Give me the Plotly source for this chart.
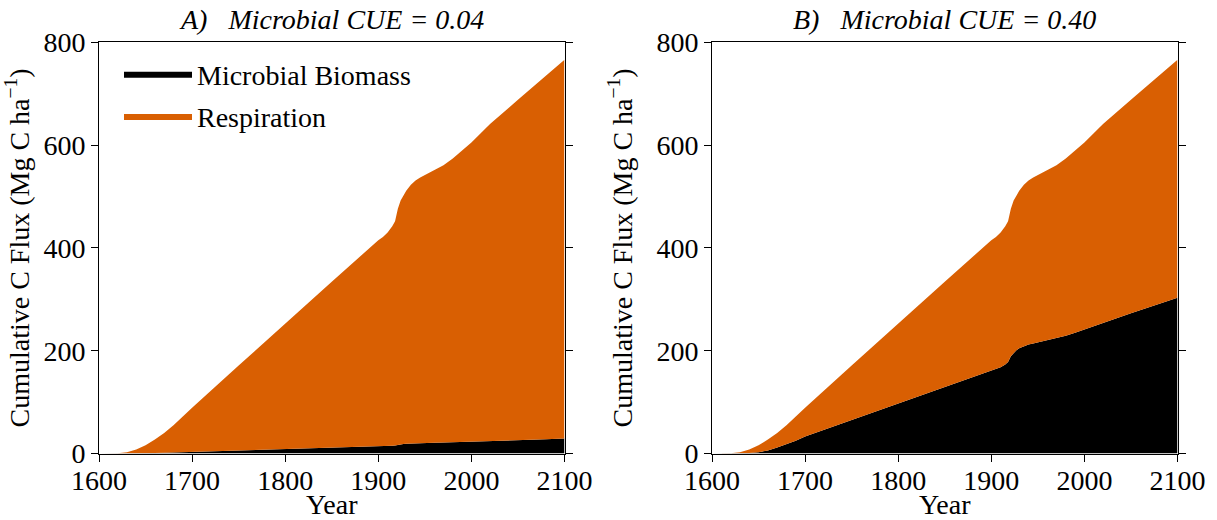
import plotly.graph_objects as go
from plotly.subplots import make_subplots

# ---- data ----
years = [1600, 1610, 1620, 1630, 1640, 1650, 1660, 1670, 1680, 1690, 1700,
         1750, 1800, 1850, 1900, 1905, 1910, 1915, 1918, 1921, 1924, 1927,
         1930, 1935, 1940, 1945, 1950, 1960, 1970, 1980, 1990, 2000, 2010,
         2020, 2050, 2080, 2100]

# cumulative total flux (biomass + respiration), same driver in both panels
total_flux = [0, 0, 0.4, 2.5, 8, 16, 27, 40, 55, 72, 89,
              171, 253, 334, 415, 421, 430, 442, 452, 476, 492, 503,
              511, 523, 531, 537, 542, 551, 561, 574, 589, 605, 623,
              641, 688, 735, 766]

biomass_a = [0, 0, 0, 0.1, 0.3, 0.6, 1.0, 1.5, 2.0, 2.5, 3.0,
             6.0, 9.0, 11.5, 14.0, 14.3, 14.7, 15.2, 15.8, 17.0, 18.0, 18.6,
             19.0, 19.5, 19.8, 20.1, 20.3, 20.8, 21.2, 21.7, 22.2, 22.8, 23.5,
             24.2, 26.0, 27.8, 29.0]

biomass_b = [0, 0, 0, 0.2, 0.8, 2.5, 6.0, 11.5, 18.0, 25.0, 33.0,
             65, 97, 130, 162, 165, 168, 173, 178, 189, 196, 201,
             205, 209, 212, 214, 216, 220, 224, 229, 235, 241, 248,
             254, 273, 291, 303]

panel_titles = ["A)\u00a0\u00a0\u00a0Microbial CUE = 0.04",
                "B)\u00a0\u00a0\u00a0Microbial CUE = 0.40"]
series_names = ["Microbial Biomass", "Respiration"]
x_ticks = [1600, 1700, 1800, 1900, 2000, 2100]
y_ticks = [0, 200, 400, 600, 800]

ORANGE = "#D95F02"
FONT = "Liberation Serif"
FS = 28

fig = make_subplots(rows=1, cols=2)

for col, biomass in ((1, biomass_a), (2, biomass_b)):
    fig.add_trace(go.Scatter(
        x=years, y=biomass, mode="lines",
        line=dict(width=0, color="black"),
        fill="tozeroy", fillcolor="black",
        name=series_names[0], legendgroup="bio",
        showlegend=(col == 1), hoverinfo="x+y"), row=1, col=col)
    fig.add_trace(go.Scatter(
        x=years, y=total_flux, mode="lines",
        line=dict(width=0, color=ORANGE),
        fill="tonexty", fillcolor=ORANGE,
        name=series_names[1], legendgroup="resp",
        showlegend=(col == 1), hoverinfo="x+y"), row=1, col=col)

axis_common = dict(showgrid=False, zeroline=False, showline=True,
                   linecolor="black", linewidth=1, ticks="outside",
                   ticklen=7, tickwidth=1, tickcolor="black",
                   automargin=False,
                   tickfont=dict(family=FONT, size=FS, color="black"))

x_domains = [[99 / 1217, 564.5 / 1217], [712 / 1217, 1177.5 / 1217]]
y_domain = [(520 - 453.5) / 520, (520 - 42.3) / 520]

for i in (1, 2):
    fig.update_xaxes(row=1, col=i, range=[1600, 2100], tickvals=x_ticks,
                     mirror=True, domain=x_domains[i - 1],
                     ticklabelstandoff=-5,
                     title=dict(text="Year", font=dict(family=FONT, size=FS, color="black")),
                     **axis_common)
    fig.update_yaxes(row=1, col=i, range=[0, 800], tickvals=y_ticks,
                     mirror="ticks", domain=y_domain,
                     title=dict(text="Cumulative C Flux (Mg C ha<sup>\u22121</sup>)",
                                font=dict(family=FONT, size=FS, color="black")),
                     **axis_common)

annotations = []
for i, t in enumerate(panel_titles):
    annotations.append(dict(
        text="<i>" + t + "</i>", xref="x%s domain" % ("" if i == 0 else "2"),
        yref="y%s domain" % ("" if i == 0 else "2"),
        x=0.5, y=1.0, xanchor="center", yanchor="bottom", yshift=5,
        showarrow=False, font=dict(family=FONT, size=FS, color="black")))

fig.update_layout(
    width=1217, height=520,
    margin=dict(l=0, r=0, t=0, b=0, autoexpand=False),
    paper_bgcolor="white", plot_bgcolor="white",
    font=dict(family=FONT, size=FS, color="black"),
    annotations=annotations,
    showlegend=True,
    legend=dict(x=119 / 1217, y=1 - 49 / 520, xanchor="left", yanchor="top",
                bgcolor="rgba(0,0,0,0)", traceorder="grouped",
                tracegroupgap=3, itemwidth=68,
                font=dict(family=FONT, size=FS, color="black")),
)

fig.write_html("out.html",
               config=dict(displayModeBar=False),
               post_script="document.body.style.margin='0px';"
                           "document.body.style.overflow='hidden';")
